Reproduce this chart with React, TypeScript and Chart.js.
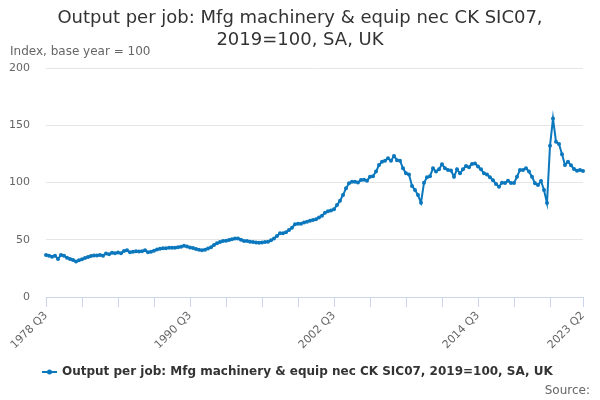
import React, { useEffect, useRef } from "react";
import { Chart, registerables } from "chart.js";

Chart.register(...registerables);

// ---- Data ----
const START_YEAR = 1978;
const START_QUARTER = 3;

const values: number[] = [
  36.7, 36.1, 35.2, 36.1, 33.2, 36.7, 36.1, 34.3, 33.2, 32.3,
  31.0, 32.0, 33.0, 34.0, 35.0, 35.8, 36.2, 36.3, 36.7, 36.1,
  38.0, 37.3, 38.6, 38.3, 38.8, 38.3, 40.2, 40.8, 39.0, 39.6,
  40.0, 39.8, 40.0, 40.8, 39.0, 39.5, 40.5, 41.5, 42.2, 42.5,
  42.5, 43.0, 43.0, 43.0, 43.5, 43.8, 44.8, 44.0, 43.3, 42.7,
  42.0, 41.3, 40.8, 41.2, 42.3, 43.5, 45.5, 47.0, 48.0, 48.9,
  49.2, 49.8, 50.5, 51.0, 51.0, 50.0, 49.0, 49.0, 48.3, 48.0,
  47.5, 47.4, 47.5, 48.0, 48.3, 49.5, 51.0, 53.3, 55.6, 55.6,
  56.5, 58.5, 60.5, 63.5, 64.0, 64.0, 65.0, 65.8, 66.7, 67.3,
  67.8, 69.5, 71.0, 73.5, 75.0, 75.5, 76.6, 80.3, 84.1, 89.0,
  94.9, 99.3, 100.7, 100.7, 100.0, 102.2, 102.5, 101.6, 105.0, 105.5,
  109.5, 115.3, 118.2, 119.0, 121.1, 119.0, 123.1, 119.5, 119.0, 112.4,
  108.0, 107.0, 97.0, 93.4, 89.0, 82.4, 99.8, 104.5, 105.5, 112.4,
  109.5, 111.5, 115.9, 112.4, 111.0, 110.5, 105.0, 111.5, 108.0, 111.5,
  114.4, 113.3, 116.2, 116.7, 114.0, 111.5, 108.0, 107.0, 104.5, 102.0,
  98.7, 96.3, 99.8, 99.5, 101.6, 99.5, 99.5, 105.0, 111.0, 111.0,
  112.4, 109.5, 105.0, 99.3, 97.8, 101.3, 93.4, 82.0, 132.0, 156.0,
  135.6, 133.6, 124.6, 115.3, 118.2, 115.0, 111.8, 110.2, 111.0, 110.0,
];

const quarters: string[] = values.map((_, i) => {
  const q = START_QUARTER - 1 + i;
  return `${START_YEAR + Math.floor(q / 4)} Q${(q % 4) + 1}`;
});

const labelledTicks: string[] = ["1978 Q3", "1990 Q3", "2002 Q3", "2014 Q3", "2023 Q2"];
const tickEveryQuarters = 12;
const yTicks: number[] = [0, 50, 100, 150, 200];

const titleLines: string[] = [
  "Output per job: Mfg machinery & equip nec CK SIC07,",
  "2019=100, SA, UK",
];
const subtitleText = "Index, base year = 100";
const seriesName = "Output per job: Mfg machinery & equip nec CK SIC07, 2019=100, SA, UK";
const sourceText = "Source:";

const LINE_COLOR = "#0b77bd";
const FONT = '"DejaVu Sans", "Liberation Sans", sans-serif';

const textPlugin = {
  id: "textDecor",
  afterDraw(chart: any) {
    const ctx = chart.ctx as CanvasRenderingContext2D;
    const w = chart.width;
    ctx.save();
    // Title
    ctx.fillStyle = "#333333";
    ctx.font = `18px ${FONT}`;
    ctx.textAlign = "center";
    ctx.textBaseline = "middle";
    ctx.fillText(titleLines[0], w / 2, 18);
    ctx.fillText(titleLines[1], w / 2, 40);
    // Subtitle
    ctx.fillStyle = "#666666";
    ctx.font = `12px ${FONT}`;
    ctx.textAlign = "left";
    ctx.fillText(subtitleText, 10, 52);
    // Legend
    const ly = 372;
    ctx.strokeStyle = LINE_COLOR;
    ctx.lineWidth = 2;
    ctx.beginPath();
    ctx.moveTo(42, ly);
    ctx.lineTo(57, ly);
    ctx.stroke();
    ctx.fillStyle = LINE_COLOR;
    ctx.beginPath();
    ctx.arc(49.5, ly, 2.5, 0, Math.PI * 2);
    ctx.fill();
    ctx.fillStyle = "#333333";
    ctx.font = `bold 12px ${FONT}`;
    ctx.textAlign = "left";
    ctx.fillText(seriesName, 62, ly);
    // Source
    ctx.fillStyle = "#666666";
    ctx.font = `12px ${FONT}`;
    ctx.textAlign = "right";
    ctx.fillText(sourceText, 590, 391);
    ctx.restore();
  },
};

export default function App() {
  const canvasRef = useRef<HTMLCanvasElement | null>(null);

  useEffect(() => {
    if (!canvasRef.current) return;
    const tickIdx: number[] = [];
    for (let i = 0; i < quarters.length; i += tickEveryQuarters) tickIdx.push(i);
    if (tickIdx[tickIdx.length - 1] !== quarters.length - 1) tickIdx.push(quarters.length - 1);

    const chart = new Chart(canvasRef.current, {
      type: "line",
      data: {
        labels: quarters,
        datasets: [
          {
            label: seriesName,
            data: values,
            borderColor: LINE_COLOR,
            backgroundColor: LINE_COLOR,
            borderWidth: 2,
            pointRadius: 2,
            pointBorderWidth: 0,
            pointBackgroundColor: LINE_COLOR,
            tension: 0,
          },
        ],
      },
      options: {
        animation: false,
        responsive: true,
        maintainAspectRatio: false,
        layout: { padding: { left: 0, right: 17, top: 68, bottom: 43 } },
        plugins: {
          legend: { display: false },
          title: { display: false },
          tooltip: { enabled: false },
        },
        scales: {
          x: {
            type: "category",
            afterBuildTicks: (scale: any) => {
              scale.ticks = tickIdx.map((v) => ({ value: v }));
            },
            afterFit: (scale: any) => {
              scale.height = 60;
            },
            ticks: {
              autoSkip: false,
              minRotation: 45,
              maxRotation: 45,
              padding: 2,
              color: "#666666",
              font: { family: FONT, size: 11 },
              callback: (value: any) => {
                const lab = quarters[value as number];
                return labelledTicks.includes(lab) ? lab : "";
              },
            },
            grid: {
              drawOnChartArea: false,
              tickLength: 10,
              tickColor: "#ccd6eb",
              color: "#ccd6eb",
            },
            border: { display: true, color: "#ccd6eb", width: 1 },
          },
          y: {
            min: 0,
            max: 200,
            afterBuildTicks: (scale: any) => {
              scale.ticks = yTicks.map((v) => ({ value: v }));
            },
            afterFit: (scale: any) => {
              scale.width = 46;
            },
            ticks: {
              padding: 16,
              color: "#666666",
              font: { family: FONT, size: 11 },
            },
            grid: { color: "#e6e6e6", drawTicks: false },
            border: { display: false },
          },
        },
      },
      plugins: [textPlugin],
    });
    return () => chart.destroy();
  }, []);

  return (
    <div style={{ position: "fixed", left: 0, top: 0, width: 600, height: 400, background: "#ffffff" }}>
      <canvas ref={canvasRef} />
    </div>
  );
}
